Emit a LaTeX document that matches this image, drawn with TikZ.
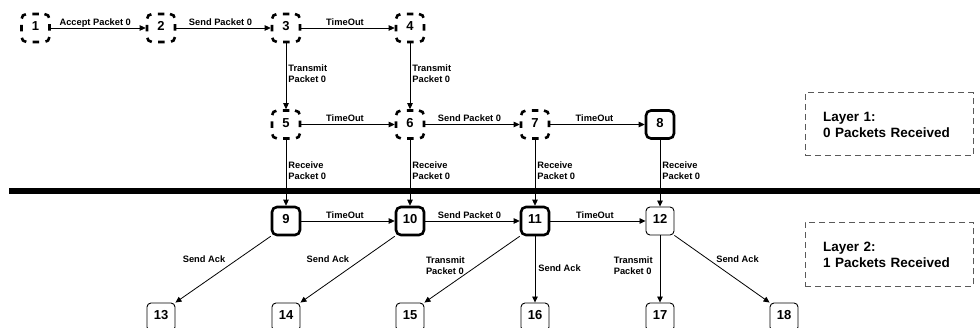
\documentclass[tikz,border=0pt]{standalone}
\usepackage{fontspec}
\setmainfont{Liberation Sans}
\usetikzlibrary{arrows.meta}
\begin{document}
\begin{tikzpicture}[x=1pt,y=-1pt,
  numbox/.style={rectangle, rounded corners=5pt, minimum width=28pt, minimum height=28pt, inner sep=0pt, font=\fontsize{13}{15}\selectfont\bfseries, text height=9.5pt, text depth=4.2pt},
  dnode/.style={numbox, draw, line width=2.6pt, dash pattern=on 6.5pt off 6.43pt, dash phase=7.18pt},
  knode/.style={numbox, draw, line width=2.6pt},
  snode/.style={numbox, draw, line width=0.9pt, rounded corners=4pt},
  conn/.style={line width=0.8pt, -{Triangle[length=6pt,width=5.5pt]}},
  lbl/.style={font=\fontsize{9.3}{11}\selectfont\bfseries, inner sep=0pt, align=left},
  hlbl/.style={lbl, midway, anchor=base, xshift=-3pt, yshift=2.6pt},
  layerbox/.style={draw=black!65, line width=1pt, dash pattern=on 6pt off 4pt, minimum width=168pt, minimum height=63pt, text width=132pt, inner xsep=18pt, inner ysep=0pt, align=left, font=\fontsize{13.5}{16}\selectfont\bfseries}
]
\useasboundingbox (0,0) rectangle (980,328);
\clip (0,0) rectangle (980,328);

% layer separator
\draw[line width=6pt] (9,191) -- (980,191);

% row 1
\node[dnode] (n1) at (35.5,28) {1};
\node[dnode] (n2) at (161,28) {2};
\node[dnode] (n3) at (286,28) {3};
\node[dnode] (n4) at (410,28) {4};
% row 2
\node[dnode] (n5) at (286,124.5) {5};
\node[dnode] (n6) at (410,124.5) {6};
\node[dnode] (n7) at (535,124.5) {7};
\node[knode] (n8) at (660,124.5) {8};
% row 3
\node[knode] (n9) at (286,221) {9};
\node[knode] (n10) at (410,221) {10};
\node[knode] (n11) at (535,221) {11};
\node[snode] (n12) at (660,221) {12};
% row 4
\node[snode] (n13) at (161,317) {13};
\node[snode] (n14) at (286,317) {14};
\node[snode] (n15) at (410,317) {15};
\node[snode] (n16) at (535,317) {16};
\node[snode] (n17) at (660,317) {17};
\node[snode] (n18) at (784,317) {18};

% layer boxes
\node[layerbox] (L1) at (889,124.5) {Layer 1:\\0 Packets Received};
\node[layerbox, minimum height=64pt] (L2) at (889,254.5) {Layer 2:\\1 Packets Received};

% row 1 edges
\draw[conn] (n1) -- node[hlbl]{Accept Packet 0} (n2);
\draw[conn] (n2) -- node[hlbl]{Send Packet 0} (n3);
\draw[conn] (n3) -- node[hlbl]{TimeOut} (n4);
% down to row 2
\draw[conn] (n3) -- node[lbl, pos=0.32, anchor=north west, xshift=2pt]{Transmit\\Packet 0} (n5);
\draw[conn] (n4) -- node[lbl, pos=0.32, anchor=north west, xshift=2pt]{Transmit\\Packet 0} (n6);
% row 2 edges
\draw[conn] (n5) -- node[hlbl]{TimeOut} (n6);
\draw[conn] (n6) -- node[hlbl]{Send Packet 0} (n7);
\draw[conn] (n7) -- node[hlbl]{TimeOut} (n8);
% down to row 3
\draw[conn] (n5) -- node[lbl, pos=0.33, anchor=north west, xshift=2pt]{Receive\\Packet 0} (n9);
\draw[conn] (n6) -- node[lbl, pos=0.33, anchor=north west, xshift=2pt]{Receive\\Packet 0} (n10);
\draw[conn] (n7) -- node[lbl, pos=0.33, anchor=north west, xshift=2pt]{Receive\\Packet 0} (n11);
\draw[conn] (n8) -- node[lbl, pos=0.33, anchor=north west, xshift=2pt]{Receive\\Packet 0} (n12);
% row 3 edges
\draw[conn] (n9) -- node[hlbl]{TimeOut} (n10);
\draw[conn] (n10) -- node[hlbl]{Send Packet 0} (n11);
\draw[conn] (n11) -- node[hlbl]{TimeOut} (n12);
% down to row 4
\draw[conn] (n9.south west) -- node[lbl, pos=0.4, anchor=base east, xshift=-7pt]{Send Ack} (n13.north east);
\draw[conn] (n10.south west) -- node[lbl, pos=0.4, anchor=base east, xshift=-7.5pt]{Send Ack} (n14.north east);
\draw[conn] (n11.south west) -- node[lbl, pos=0.31, anchor=north east, xshift=-25pt]{Transmit\\Packet 0} (n15.north east);
\draw[conn] (n11) -- node[lbl, pos=0.42, anchor=north west, xshift=3pt]{Send Ack} (n16);
\draw[conn] (n12) -- node[lbl, pos=0.31, anchor=north east, xshift=-7pt]{Transmit\\Packet 0} (n17);
\draw[conn] (n12.south east) -- node[lbl, pos=0.41, anchor=base west, xshift=2.5pt]{Send Ack} (n18.north west);
\end{tikzpicture}
\end{document}
